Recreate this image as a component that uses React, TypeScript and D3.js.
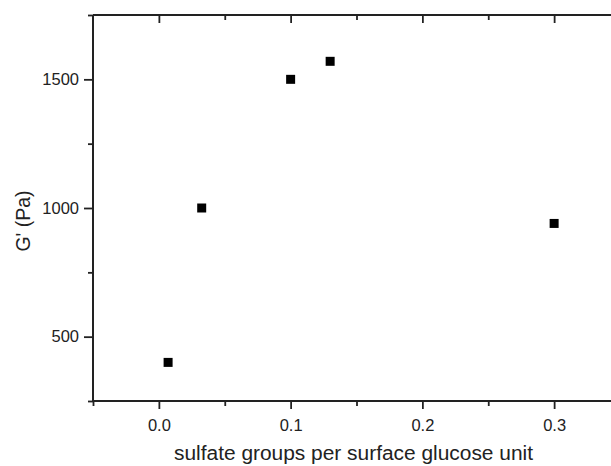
import { useEffect, useRef } from "react";
import * as d3 from "d3";

// values
const sulfate = [0.007, 0.0325, 0.1, 0.13, 0.3];
const gPrime = [400, 1000, 1500, 1570, 940];

const xMajor = [0, 0.1, 0.2, 0.3];
const xMinor = [-0.05, 0.05, 0.15, 0.25, 0.35];
const yMajor = [500, 1000, 1500];
const yMinor = [250, 750, 1250, 1750];

const xTitle = "sulfate groups per surface glucose unit";
const yTitle = "G' (Pa)";

export default function App() {
  const ref = useRef<SVGSVGElement>(null);

  useEffect(() => {
    const W = 611, H = 466;
    const svg = d3.select(ref.current);
    svg.selectAll("*").remove();

    const x = d3.scaleLinear().domain([-0.05, 0.35]).range([93, 620]);
    const y = d3.scaleLinear().domain([250, 1750]).range([401, 15]);
    const ink = "#222";
    const font = "'Liberation Sans', Arial, sans-serif";

    svg.append("rect").attr("width", W).attr("height", H).attr("fill", "#fff");

    const styleAxis = (g) => {
      g.select(".domain").remove();
      g.selectAll("line").attr("stroke", ink).attr("stroke-width", 1.8);
      g.selectAll("text")
        .attr("fill", ink)
        .style("font-family", font)
        .style("font-size", "16.5px");
    };

    // bottom axis, ticks outward
    svg.append("g")
      .attr("transform", `translate(0,${y(250)})`)
      .call(d3.axisBottom(x).tickValues(xMajor).tickSize(8).tickPadding(10).tickFormat(d3.format(".1f")))
      .call(styleAxis);
    svg.append("g")
      .attr("transform", `translate(0,${y(250)})`)
      .call(d3.axisBottom(x).tickValues(xMinor).tickSize(5).tickFormat(() => ""))
      .call(styleAxis);

    // top axis, ticks inward
    svg.append("g")
      .attr("transform", `translate(0,${y(1750)})`)
      .call(d3.axisBottom(x).tickValues(xMajor).tickSize(8).tickFormat(() => ""))
      .call(styleAxis);
    svg.append("g")
      .attr("transform", `translate(0,${y(1750)})`)
      .call(d3.axisBottom(x).tickValues(xMinor.slice(1)).tickSize(5).tickFormat(() => ""))
      .call(styleAxis);

    // left axis, ticks outward
    svg.append("g")
      .attr("transform", `translate(${x(-0.05)},0)`)
      .call(d3.axisLeft(y).tickValues(yMajor).tickSize(9).tickPadding(5).tickFormat(d3.format("d")))
      .call(styleAxis);
    svg.append("g")
      .attr("transform", `translate(${x(-0.05)},0)`)
      .call(d3.axisLeft(y).tickValues(yMinor).tickSize(5).tickFormat(() => ""))
      .call(styleAxis);

    // axis lines
    const [x0, x1] = x.range();
    const [y0, y1] = y.range();
    svg.append("line").attr("x1", x0).attr("x2", x1).attr("y1", y0).attr("y2", y0)
      .attr("stroke", ink).attr("stroke-width", 2);
    svg.append("line").attr("x1", x0).attr("x2", x1).attr("y1", y1).attr("y2", y1)
      .attr("stroke", ink).attr("stroke-width", 2);
    svg.append("line").attr("x1", x0).attr("x2", x0).attr("y1", y0).attr("y2", y1)
      .attr("stroke", ink).attr("stroke-width", 2);
    svg.append("line").attr("x1", x1).attr("x2", x1).attr("y1", y0).attr("y2", y1)
      .attr("stroke", ink).attr("stroke-width", 2);

    // points
    svg.append("g")
      .selectAll("path")
      .data(sulfate.map((s, i) => ({ s, g: gPrime[i] })))
      .enter()
      .append("path")
      .attr("d", d3.symbol(d3.symbolSquare).size(81))
      .attr("transform", d => `translate(${x(d.s)},${y(d.g)})`)
      .attr("fill", "#000");

    // titles
    svg.append("text")
      .attr("x", 353.5)
      .attr("y", 460)
      .attr("text-anchor", "middle")
      .attr("textLength", 359)
      .attr("lengthAdjust", "spacingAndGlyphs")
      .attr("fill", ink)
      .style("font-family", font)
      .style("font-size", "19.5px")
      .text(xTitle);

    svg.append("text")
      .attr("transform", "translate(29.5,221) rotate(-90)")
      .attr("text-anchor", "middle")
      .attr("fill", ink)
      .style("font-family", font)
      .style("font-size", "19.5px")
      .text(yTitle);
  }, []);

  return (
    <svg
      ref={ref}
      width={611}
      height={466}
      style={{ position: "absolute", left: 0, top: 0, display: "block" }}
    />
  );
}
